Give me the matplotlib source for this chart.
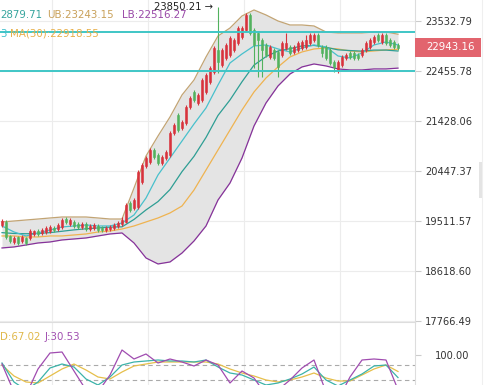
import matplotlib
matplotlib.use('Agg')
import matplotlib.pyplot as plt
from matplotlib.patches import Rectangle
from matplotlib.ticker import NullLocator
import numpy as np

plt.rcParams['font.family'] = ['DejaVu Sans']

# daily candles (red = up, green = down)
opens = [19439, 19494, 19240, 19132, 19222, 19150, 19204, 19204, 19276, 19330,
         19294, 19312, 19330, 19384, 19366, 19403, 19548, 19457, 19494, 19457,
         19403, 19457, 19366, 19384, 19421, 19384, 19348, 19366, 19384, 19421,
         19457, 19494, 19843, 19751, 19769, 20237, 20543, 20620, 20854, 20756,
         20601, 20698, 20756, 21189, 21549, 21288, 21388, 21711, 22019, 21793,
         21854, 22019, 22225, 22435, 22903, 22583, 22731, 22795, 22903, 23053,
         23183, 23335, 23666, 23335, 23270, 23118, 23010, 22753, 22903, 22860,
         22795, 22946, 22967, 22860, 22903, 22946, 22967, 23053, 23118, 23226,
         22967, 22967, 22903, 22647, 22478, 22583, 22731, 22838, 22838, 22795,
         22795, 22903, 22967, 23075, 23226, 23075, 23226, 23118, 23075, 23010]
closes = [19512, 19222, 19150, 19204, 19114, 19222, 19114, 19330, 19330, 19276,
          19348, 19384, 19403, 19348, 19439, 19530, 19494, 19530, 19421, 19403,
          19457, 19366, 19421, 19439, 19348, 19348, 19384, 19403, 19439, 19475,
          19530, 19806, 19714, 19899, 20428, 20562, 20698, 20854, 20717, 20601,
          20717, 20815, 21189, 21348, 21248, 21408, 21711, 21895, 21854, 21957,
          22267, 22372, 22520, 22946, 22647, 22903, 23010, 23161, 23118, 23379,
          23379, 23666, 23270, 23010, 23118, 22903, 22795, 22967, 22731, 22541,
          23053, 23053, 22838, 22967, 23053, 23075, 23118, 23226, 23226, 23010,
          22838, 22731, 22625, 22541, 22647, 22753, 22795, 22753, 22731, 22731,
          22903, 23053, 23118, 23183, 23118, 23226, 23053, 23010, 22967, 22943.16]
highs = [19548, 19530, 19258, 19240, 19240, 19258, 19222, 19366, 19348, 19366,
         19384, 19421, 19439, 19421, 19475, 19567, 19585, 19567, 19530, 19494,
         19494, 19494, 19457, 19475, 19457, 19421, 19421, 19439, 19475, 19512,
         19585, 19843, 19880, 19936, 20466, 20601, 20737, 20893, 20893, 20795,
         20756, 20854, 21228, 21388, 21589, 21448, 21752, 21936, 22060, 21998,
         22309, 22414, 22562, 22989, 23850.21, 22946, 23053, 23204, 23161, 23423,
         23423, 23710, 23710, 23379, 23314, 23161, 23053, 23010, 22946, 22903,
         23096, 23270, 23010, 23010, 23096, 23118, 23226, 23270, 23270, 23270,
         23010, 23010, 22946, 22689, 22689, 22795, 22838, 22881, 22881, 22838,
         22946, 23096, 23161, 23226, 23270, 23270, 23270, 23161, 23118, 23053]
lows = [19403, 19186, 19114, 19096, 19078, 19114, 19078, 19168, 19240, 19240,
        19258, 19276, 19294, 19312, 19330, 19366, 19457, 19421, 19384, 19366,
        19366, 19330, 19330, 19348, 19312, 19312, 19312, 19330, 19348, 19384,
        19421, 19475, 19677, 19714, 19732, 20200, 20504, 20581, 20678, 20562,
        20562, 20659, 20717, 21149, 21208, 21248, 21348, 21670, 21813, 21752,
        21813, 21978, 22184, 22393, 22414, 22541, 22689, 22753, 22860, 23010,
        23140, 23292, 23226, 22520, 22330, 22330, 22753, 22710, 22689, 22330,
        22753, 22903, 22795, 22817, 22860, 22903, 22924, 23010, 23075, 22967,
        22753, 22689, 22583, 22435, 22414, 22541, 22689, 22710, 22689, 22689,
        22753, 22860, 22924, 23031, 23075, 23031, 23010, 22967, 22924, 22903]

# indicator lines, read every third candle
line_idx = list(range(0, 100, 3))
ub = [19494, 19512, 19530, 19548, 19567, 19585, 19585, 19585, 19567, 19548,
      19548, 20124, 20737, 21129, 21509, 21957, 22267, 22753, 23204, 23379,
      23644, 23777, 23666, 23533, 23445, 23445, 23423, 23292, 23270, 23270,
      23270, 23292, 23292, 23243.15]
lb = [19025, 19043, 19078, 19114, 19132, 19168, 19186, 19204, 19240, 19276,
      19294, 19114, 18847, 18742, 18777, 18935, 19150, 19421, 19899, 20219,
      20698, 21328, 21793, 22143, 22393, 22541, 22604, 22562, 22499, 22478,
      22478, 22499, 22499, 22516.27]
mid = [19300, 19285, 19280, 19285, 19300, 19325, 19350, 19370, 19385, 19400,
       19405, 19540, 19715, 19870, 20095, 20435, 20730, 21100, 21540, 21855,
       22230, 22580, 22760, 22880, 22930, 22990, 23000, 22960, 22905, 22890,
       22878, 22900, 22900, 22879.71]
ma_fast = [19421, 19312, 19240, 19294, 19348, 19403, 19421, 19439, 19421, 19421,
           19475, 19622, 19936, 20371, 20698, 21030, 21368, 21691, 22163, 22625,
           22817, 22989, 23010, 22924, 22860, 22946, 23010, 22967, 22774, 22731,
           22838, 23010, 23075, 23010]
ma30 = [19240, 19240, 19222, 19222, 19240, 19240, 19258, 19276, 19312, 19330,
        19366, 19421, 19494, 19567, 19659, 19788, 20086, 20466, 20854, 21248,
        21650, 22019, 22309, 22541, 22753, 22860, 22924, 22946, 22924, 22881,
        22860, 22881, 22903, 22918.55]

# KDJ
k_vals = [84, 46, 30, 46, 74, 82, 76, 52, 40, 56, 80, 86, 88, 90, 88, 88, 86,
          90, 76, 64, 60, 50, 40, 44, 52, 62, 76, 50, 38, 50, 62, 78, 80, 54.86]
d_vals = [80, 58, 46, 44, 58, 72, 82, 70, 56, 52, 66, 78, 82, 86, 86, 86, 86,
          86, 82, 72, 64, 58, 50, 46, 50, 56, 64, 54, 48, 48, 60, 72, 80, 67.02]
j_vals = [82, 26, 20, 72, 104, 106, 68, 30, 26, 60, 110, 92, 102, 84, 92, 86, 78,
          90, 80, 44, 68, 54, 20, 30, 50, 74, 90, 26, 10, 56, 90, 92, 90, 30.53]

price_ticks = [23532.79, 22455.78, 21428.06, 20447.37, 19511.57, 18618.60, 17766.49]
price_labels = ['23532.79', '22455.78', '21428.06', '20447.37', '19511.57', '18618.60', '17766.49']
level_lines = [23285, 22455.78]
last_price = 22943.16
top_high = 23850.21
grid_idx = [12.5, 36.5, 60.5, 84.5]

RED = '#d8323c'
GREEN = '#52b25e'
GRID = '#ececec'

W, H = 489, 385
fig = plt.figure(figsize=(W / 100, H / 100), dpi=100)
fig.patch.set_facecolor('white')

ax = fig.add_axes([0, 63 / H, 415 / W, 322 / H])
kx = fig.add_axes([0, 0, 415 / W, 63 / H])

ax.set_yscale('log')

for g in grid_idx:
    ax.axvline(g, color=GRID, lw=0.8, zorder=0)
    kx.axvline(g, color=GRID, lw=0.8, zorder=0)
for t in price_ticks:
    ax.axhline(t, color=GRID, lw=0.8, zorder=0)

ax.fill_between(line_idx, lb, ub, color='#e4e4e4', lw=0, zorder=1)
ax.plot(line_idx, ub, color='#c2a474', lw=0.9, zorder=3)
ax.plot(line_idx, lb, color='#86329a', lw=0.9, zorder=3)
ax.plot(line_idx, ma30, color='#efb350', lw=0.9, zorder=3)
ax.plot(line_idx, mid, color='#2e9e94', lw=0.9, zorder=3)
ax.plot(line_idx, ma_fast, color='#48c0cc', lw=0.9, zorder=3)

o, c, h, l = map(np.array, (opens, closes, highs, lows))
xs = np.arange(len(o))
cols = np.where(c >= o, RED, GREEN)
ax.vlines(xs, l, h, colors=cols, lw=0.8, zorder=4)
bot = np.minimum(o, c)
top = np.maximum(o, c)
ax.bar(xs, top - bot, bottom=bot, width=0.7, color=cols, edgecolor=cols, lw=0.4, zorder=5)

for v in level_lines:
    ax.axhline(v, color='#3fc6c6', lw=1.4, zorder=6)

ax.text(54 - 1.3, top_high, '23850.21 \u2192', ha='right', va='center',
        fontsize=7.2, color='#222222', zorder=7)

ax.set_xlim(-0.5, 103.25)
ax.set_ylim(17750, 24000)
ax.yaxis.tick_right()
ax.set_yticks(price_ticks)
ax.set_yticklabels(price_labels)
ax.yaxis.set_minor_locator(NullLocator())
ax.set_xticks([])
ax.tick_params(axis='y', length=4.3, width=0.8, color='#cccccc', pad=3,
               labelsize=7.1, labelcolor='#333333')
for s in ['top', 'left', 'bottom']:
    ax.spines[s].set_visible(False)
ax.spines['right'].set_color('#dddddd')

# KDJ panel
kx.axhline(80, color='#aaaaaa', lw=0.8, dashes=(4, 3), zorder=1)
kx.axhline(50, color='#aaaaaa', lw=0.8, dashes=(4, 3), zorder=1)
kx.plot(line_idx, d_vals, color='#e6bf4a', lw=0.9, zorder=2)
kx.plot(line_idx, k_vals, color='#3bb3a9', lw=0.9, zorder=3)
kx.plot(line_idx, j_vals, color='#a04cb0', lw=0.9, zorder=4)
kx.set_xlim(-0.5, 103.25)
kx.set_ylim(40, 166)
kx.yaxis.tick_right()
kx.set_yticks([100])
kx.set_yticklabels(['100.00'])
kx.set_xticks([])
kx.tick_params(axis='y', length=4.3, width=0.8, color='#cccccc', pad=10,
               labelsize=7.1, labelcolor='#333333')
for s in ['left', 'bottom']:
    kx.spines[s].set_visible(False)
kx.spines['right'].set_color('#dddddd')
kx.spines['top'].set_color('#dddddd')


def fx(x):
    return x / W


def fy(y):
    return 1 - y / H


fs = 7.4
fig.text(fx(0), fy(15), '2879.71', ha='left', va='center', fontsize=fs, color='#36a59d')
fig.text(fx(47), fy(15), 'UB:23243.15', ha='left', va='center', fontsize=fs, color='#c9a15a')
fig.text(fx(122), fy(15), 'LB:22516.27', ha='left', va='center', fontsize=fs, color='#9a4aa8')
fig.text(fx(0), fy(34), '3', ha='left', va='center', fontsize=fs, color='#3fbfcc')
fig.text(fx(10), fy(34), 'MA(30):22918.55', ha='left', va='center', fontsize=fs, color='#e8b04a')
fig.text(fx(0), fy(337), 'D:67.02', ha='left', va='center', fontsize=fs, color='#e0b84a')
fig.text(fx(45), fy(337), 'J:30.53', ha='left', va='center', fontsize=fs, color='#a14fb0')

# last price box
fig.patches.append(Rectangle((fx(415), fy(57)), 66 / W, 19 / H, transform=fig.transFigure,
                             facecolor='#e2646e', edgecolor='none', zorder=5))
fig.text(fx(426), fy(47.5), '%.2f' % last_price, ha='left', va='center', fontsize=7.4,
         color='white', zorder=6)

# side scroll handle
fig.patches.append(Rectangle((fx(479), fy(198)), 4 / W, 36 / H, transform=fig.transFigure,
                             facecolor='#e4e4e4', edgecolor='none'))
fig.lines.append(plt.Line2D([fx(482), fx(482)], [0, 1], transform=fig.transFigure,
                            color='#efefef', lw=0.8))

fig.savefig('out.png', dpi=100)
